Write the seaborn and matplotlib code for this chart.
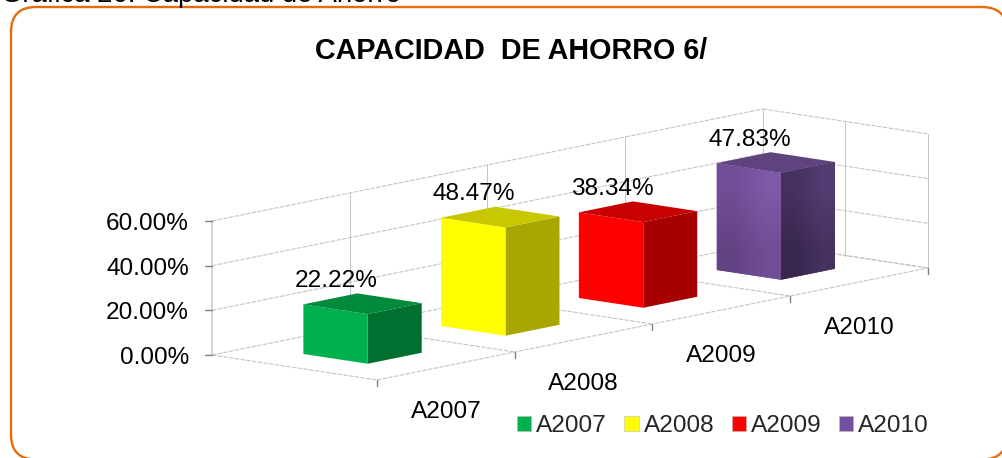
import numpy as np
import matplotlib
matplotlib.use("Agg")
import matplotlib.pyplot as plt
import seaborn as sns
from matplotlib.colors import LinearSegmentedColormap
from matplotlib.patches import FancyBboxPatch, Patch, Polygon
from matplotlib.transforms import Affine2D

# data
years = ["A2007", "A2008", "A2009", "A2010"]
values = [22.22, 48.47, 38.34, 47.83]
value_labels = ["22.22%", "48.47%", "38.34%", "47.83%"]
y_ticks = [0, 20, 40, 60]
y_tick_labels = ["0.00%", "20.00%", "40.00%", "60.00%"]

front_colors = ["#00B04F", "#FFFF00", "#FF0000", "#7350A0"]
side_colors = ["#007030", "#A8A600", "#A80000", "#45315F"]
top_colors = ["#008A3C", "#C8C800", "#C80000", "#5F437F"]

# oblique projection of the 3d box, in pixels
ox, oy = 212, 355
ux, uy = 137.75, -28.0   # one category
dx, dy = 165.0, 25.0     # full depth
zp = 134 / 60            # pixels per percent
half_w = 0.196
b_back, b_front = 0.30, 0.69


def project(a, b, v):
    return ox + a * ux + b * dx, oy + a * uy + b * dy - v * zp


sns.set_style("white")
plt.rcParams["font.family"] = ["Liberation Sans", "DejaVu Sans"]
fs = 17.6

fig = plt.figure(figsize=(10.03, 4.58), dpi=100)
ax = fig.add_axes([0, 0, 1, 1])

# one face of each column comes from seaborn, sheared onto the floor below
sns.barplot(x=years, y=values, hue=years, palette=side_colors, width=2 * half_w,
            dodge=False, legend=False, saturation=1, ax=ax, zorder=3)
ax.set_xlim(0, 1003)
ax.set_ylim(458, 0)
ax.axis("off")

shear = Affine2D.from_values(ux, uy, 0, -zp,
                             ox + 0.5 * ux + b_front * dx,
                             oy + 0.5 * uy + b_front * dy)
for bar in ax.patches:
    bar.set_transform(shear + ax.transData)
    bar.set_linewidth(0)


def gline(p, q, color="#C4C4C4", lw=0.8, ls=(0, (4, 1.2)), z=1):
    ax.plot([p[0], q[0]], [p[1], q[1]], color=color, lw=lw, ls=ls, zorder=z)


# walls and floor
for v in y_ticks:
    gline(project(0, 0, v), project(4, 0, v))
    gline(project(4, 0, v), project(4, 1, v))
for a in range(1, 5):
    gline(project(a, 0, 0), project(a, 0, 60), ls="-", lw=0.7)
gline(project(4, 0.5, 0), project(4, 0.5, 60), ls="-", lw=0.7)
gline(project(4, 1, 0), project(4, 1, 60), ls="-", lw=0.7)
for a in range(0, 5):
    gline(project(a, 0, 0), project(a, 1, 0))
gline(project(0, 1, 0), project(4, 1, 0))

gline(project(0, 0, 0), project(0, 0, 60), color="#D0D0D0", lw=1.3, ls="-", z=1.5)
for v, lab in zip(y_ticks, y_tick_labels):
    x, y = project(0, 0, v)
    gline((x - 7, y), (x, y), color="#808080", lw=1.0, ls="-", z=1.6)
    ax.text(189, y + 3, lab, ha="right", va="center", fontsize=fs, color="black")

for a in range(0, 5):
    x, y = project(a, 1, 0)
    gline((x, y), (x, y + 6), color="#808080", lw=1.0, ls="-", z=1.6)

# remaining faces of the columns
for i, v in enumerate(values):
    c = i + 0.5
    l, r = c - half_w, c + half_w
    front = [project(l, b_back, 0), project(l, b_front, 0),
             project(l, b_front, v), project(l, b_back, v)]
    top = [project(l, b_back, v), project(l, b_front, v),
           project(r, b_front, v), project(r, b_back, v)]
    ax.add_patch(Polygon(front, closed=True, fc=front_colors[i], ec="none", zorder=3))
    ax.add_patch(Polygon(top, closed=True, fc=top_colors[i], ec="none", zorder=3))
    x, y = project(c, 0.5, v)
    ax.text(x - 27, y - 23, value_labels[i], ha="center", va="center",
            fontsize=fs, color="black", zorder=5)
    x, y = project(c, 1, 0)
    ax.text(x, y + 45.5, years[i], ha="center", va="center", fontsize=fs, color="black")


def gradient_face(poly, c_low, c_high):
    # soft diagonal shading used on the purple column
    xs = [p[0] for p in poly]
    ys = [p[1] for p in poly]
    cmap = LinearSegmentedColormap.from_list("face", [c_low, c_high])
    im = ax.imshow([[0.0, 0.5], [0.5, 1.0]], cmap=cmap, interpolation="bilinear",
                   extent=(min(xs), max(xs), max(ys), min(ys)), origin="lower",
                   aspect="auto", zorder=3.5)
    im.set_clip_path(Polygon(poly, closed=True, transform=ax.transData))


c = 3.5
l, r = c - half_w, c + half_w
v = values[3]
gradient_face([project(l, b_back, 0), project(l, b_front, 0),
               project(l, b_front, v), project(l, b_back, v)], "#624383", "#7F58A6")
gradient_face([project(l, b_front, 0), project(r, b_front, 0),
               project(r, b_front, v), project(l, b_front, v)], "#38274E", "#523B70")
ax.set_xlim(0, 1003)
ax.set_ylim(458, 0)

# frame, title and the clipped caption above it
ax.add_patch(FancyBboxPatch((36, 32), 946, 402.5, boxstyle="round,pad=25,rounding_size=25",
                            fc="white", ec="#E46C0A", lw=1.7, zorder=0.2))
ax.text(511, 51, "CAPACIDAD  DE AHORRO 6/", ha="center", va="center", fontsize=20.7,
        fontweight="bold", color="black")
ax.text(1, 1.5, "Gráfica 26: Capacidad de Ahorro", ha="left", va="baseline", fontsize=19.8,
        color="black")

handles = [Patch(fc=col, ec="#BBBBBB", lw=0.4, label=y) for col, y in zip(front_colors, years)]
ax.legend(handles=handles, ncol=4, frameon=False, fontsize=fs, loc="center left",
          bbox_to_anchor=(517 / 1003, 1 - 426.5 / 458), bbox_transform=fig.transFigure,
          handlelength=0.58, handleheight=0.58, handletextpad=0.2, columnspacing=0.72,
          borderpad=0, borderaxespad=0)

fig.savefig("out.png", dpi=100)
